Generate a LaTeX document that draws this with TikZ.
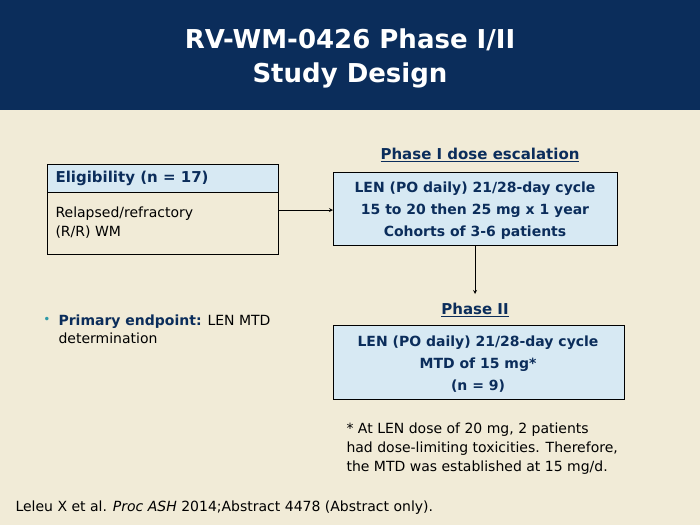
\documentclass[tikz,border=0pt]{standalone}
\usepackage{fontspec}
\setmainfont{DejaVu Sans}
\usetikzlibrary{positioning}
\definecolor{navy}{HTML}{0B2D5B}
\definecolor{beige}{HTML}{F1EBD7}
\definecolor{paleblue}{HTML}{D7E9F3}
\definecolor{teal}{HTML}{2E9AA8}
\tikzset{
  bluebox/.style={draw=black,fill=paleblue,line width=0.8pt},
  boxtext/.style={text=navy,font=\fontsize{14}{22}\selectfont\bfseries,align=center},
  heading/.style={text=navy,font=\fontsize{15}{18}\selectfont\bfseries},
  plain/.style={font=\fontsize{14}{19}\selectfont,align=left,anchor=west},
}
\begin{document}
\begin{tikzpicture}[x=1pt,y=-1pt]
  % background
  \fill[beige] (0,0) rectangle (700,525);
  \useasboundingbox (0,0) rectangle (700,525);
  \fill[navy] (0,0) rectangle (700,110);
  \node[white,font=\fontsize{26}{34}\selectfont\bfseries,align=center] (title) at (350,58) {RV-WM-0426 Phase I/II\\Study Design};

  % eligibility
  \draw[bluebox] (47,164) rectangle (278,192);
  \draw[line width=0.8pt] (47,192) rectangle (278,254);
  \node[heading,anchor=west] (elig) at (52,178) {Eligibility (n = 17)};
  \node[plain] (elig body) at (52,223) {Relapsed/refractory\\(R/R) WM};
  \coordinate (elig out) at (278,210);

  % phase I
  \node[heading] (p1 head) at (480,155) {\underline{Phase I dose escalation}};
  \draw[bluebox] (333,172) rectangle (617,245);
  \node[boxtext] (p1) at (475,211) {LEN (PO daily) 21/28-day cycle\\15 to 20 then 25 mg x 1 year\\Cohorts of 3-6 patients};
  \coordinate (p1 in) at (333,210);
  \coordinate (p1 out) at (475,245);
  \draw[-stealth,line width=0.8pt] (elig out) -- (p1 in);

  % phase II
  \node[heading] (p2 head) at (475,310) {\underline{Phase II}};
  \coordinate (p2 in) at (475,294);
  \draw[-stealth,line width=0.8pt] (p1 out) -- (p2 in);
  \draw[bluebox] (333,325) rectangle (624,399);
  \node[boxtext] (p2) at (478,364) {LEN (PO daily) 21/28-day cycle\\MTD of 15 mg*\\(n = 9)};

  % endpoint
  \node[teal,font=\fontsize{12}{12}\selectfont] (bullet) at (47,320) {•};
  \node[plain,font=\fontsize{14}{18}\selectfont] (endpoint) at (55,329) {\textcolor{navy}{\textbf{Primary endpoint:}} LEN MTD\\determination};

  % footnote
  \node[plain,font=\fontsize{14}{19}\selectfont] (note) at (343,449) {* At LEN dose of 20 mg, 2 patients\\had dose-limiting toxicities. Therefore,\\the MTD was established at 15 mg/d.};
  \node[plain,font=\fontsize{14}{18}\selectfont] (cite) at (12,508) {Leleu X et al. \textit{Proc ASH} 2014;Abstract 4478 (Abstract only).};
\end{tikzpicture}
\end{document}
